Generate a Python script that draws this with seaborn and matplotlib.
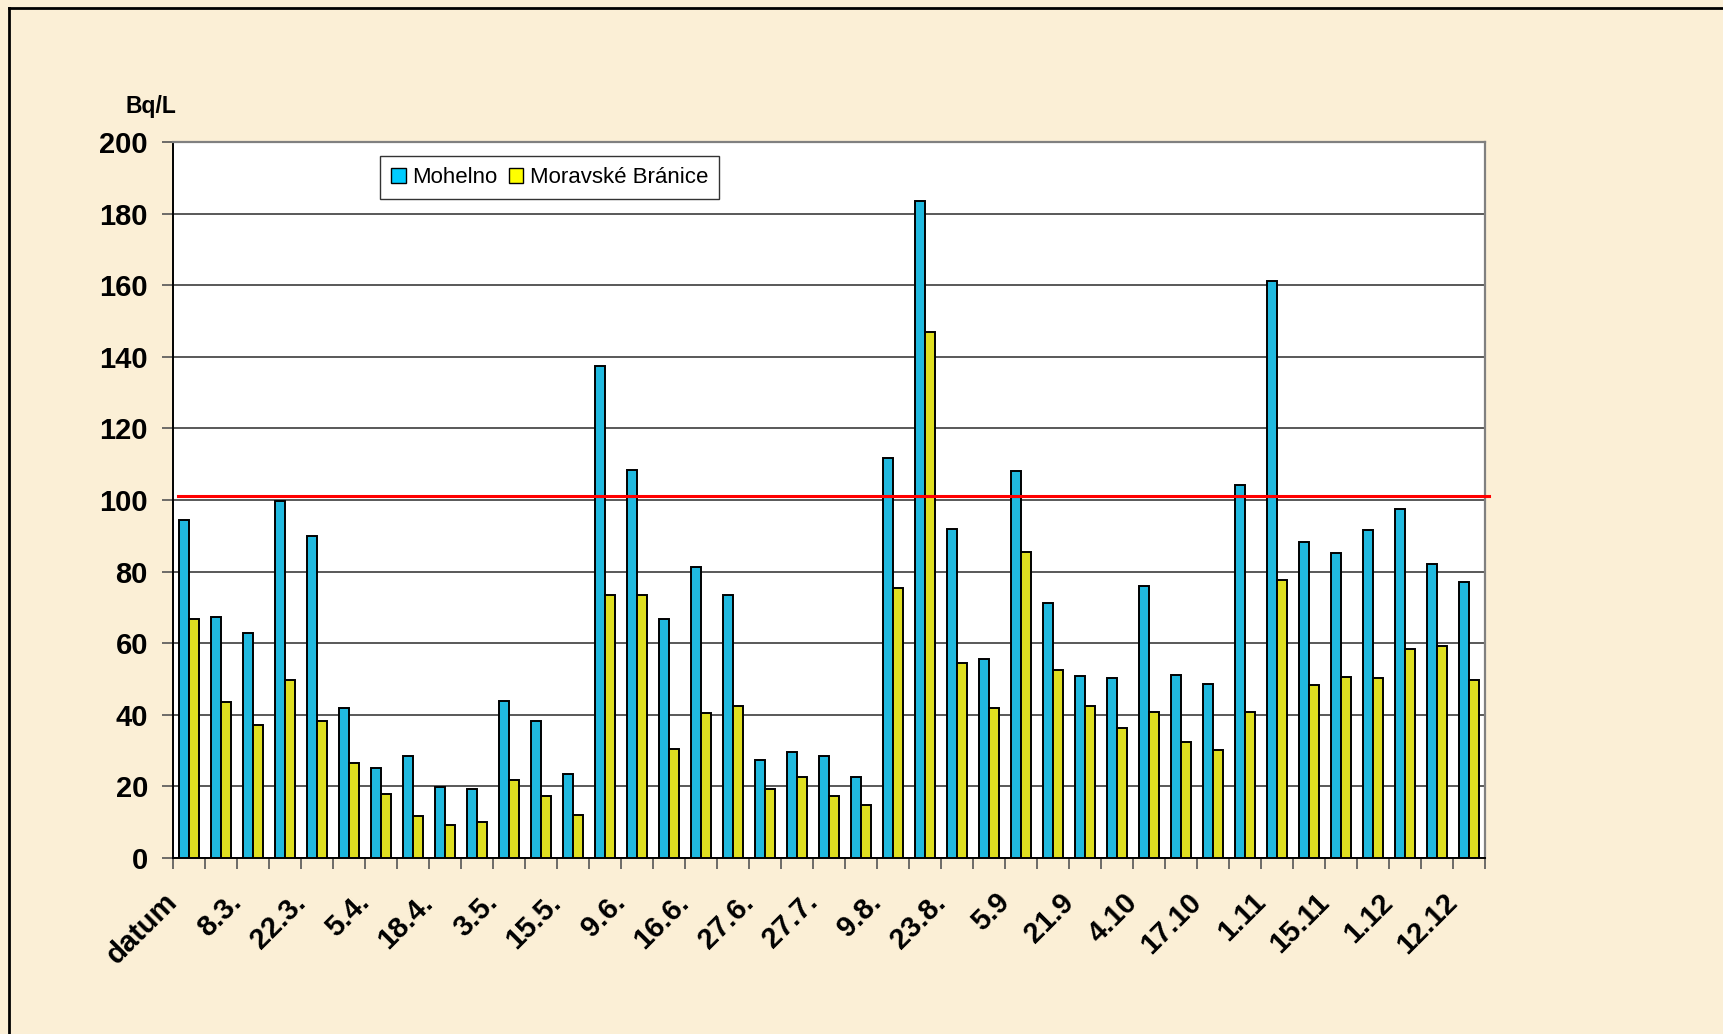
import numpy as np
import pandas as pd
import matplotlib
matplotlib.use("Agg")
import matplotlib.pyplot as plt
import matplotlib.transforms as mtrans
from matplotlib.lines import Line2D
from matplotlib.patches import Patch
import seaborn as sns

plt.rcParams['font.family'] = ['Liberation Sans', 'DejaVu Sans']

# ---- data ----
shown_labels = ["datum", "8.3.", "22.3.", "5.4.", "18.4.", "3.5.", "15.5.", "9.6.",
                "16.6.", "27.6.", "27.7.", "9.8.", "23.8.", "5.9", "21.9", "4.10",
                "17.10", "1.11", "15.11", "1.12", "12.12"]
mohelno = [94.3, 67.3, 62.8, 99.7, 90.0, 42.0, 25.1, 28.5, 19.9, 19.4, 43.9, 38.3,
           23.6, 137.4, 108.3, 66.7, 81.3, 73.5, 27.5, 29.5, 28.5, 22.7, 111.8, 183.6,
           92.0, 55.6, 108.0, 71.1, 50.8, 50.2, 75.9, 51.1, 48.7, 104.2, 161.3, 88.2,
           85.3, 91.7, 97.4, 82.0, 77.2]
branice = [66.7, 43.5, 37.2, 49.7, 38.2, 26.6, 17.8, 11.6, 9.1, 10.1, 21.7, 17.4,
           12.0, 73.5, 73.5, 30.4, 40.6, 42.5, 19.4, 22.7, 17.4, 14.9, 75.4, 146.9,
           54.6, 42.0, 85.6, 52.6, 42.5, 36.2, 40.9, 32.4, 30.2, 40.7, 77.6, 48.3,
           50.5, 50.2, 58.3, 59.3, 49.6]
series_names = ["Mohelno", "Moravské Bránice"]
limit_value = 101
y_ticks = list(range(0, 201, 20))

n = len(mohelno)
sample = list(range(n))
df = pd.DataFrame({
    "vzorek": sample + sample,
    "stanice": [series_names[0]] * n + [series_names[1]] * n,
    "Bq/L": mohelno + branice,
})

colors = {series_names[0]: "#00CCFF", series_names[1]: "#FFFF00"}
bg = "#FBEFD6"

W, H = 1723, 1034
fig = plt.figure(figsize=(W / 100, H / 100), dpi=100, facecolor=bg)
left, right, top, bottom = 173, 1485, 142, 858
ax = fig.add_axes([left / W, 1 - bottom / H, (right - left) / W, (bottom - top) / H])
ax.set_facecolor("white")

sns.barplot(data=df, x="vzorek", y="Bq/L", hue="stanice", order=sample,
            hue_order=series_names, palette=colors, width=0.62,
            edgecolor="black", linewidth=1.4, legend=False, ax=ax, zorder=3)

ax.set_xlim(-0.5, n - 0.5)
ax.set_ylim(0, 200)
ax.set_xlabel("")
ax.set_ylabel("")

# grid
ax.set_axisbelow(True)
ax.yaxis.grid(True, color="#3c3c3c", lw=1.2)
ax.xaxis.grid(False)

# limit line
ax.axhline(limit_value, xmin=0.004, xmax=1.003, color="#FF0000", lw=2.2,
           zorder=4, clip_on=False)

# y ticks
ax.set_yticks(y_ticks)
ax.set_yticklabels([str(v) for v in y_ticks], fontsize=21, fontweight="bold")
ax.tick_params(axis="y", length=8, width=1.2, color="#555555", pad=10)

# x ticks: minor ticks at category boundaries, labels every 2nd category
ax.set_xticks(np.arange(-0.5, n, 1), minor=True)
ax.set_xticks(range(0, n, 2))
ax.set_xticklabels([])
ax.tick_params(axis="x", which="major", length=0)
ax.tick_params(axis="x", which="minor", length=8, width=1.2, color="#555555")

offset = mtrans.ScaledTranslation(-26 / 100, -30 / 100, fig.dpi_scale_trans)
for pos, lab in zip(range(0, n, 2), shown_labels):
    ax.text(pos, 0, lab, transform=ax.get_xaxis_transform() + offset,
            rotation=45, rotation_mode="anchor", ha="right", va="top",
            fontsize=21, fontweight="bold", color="black")

# spines
for s in ["left", "bottom"]:
    ax.spines[s].set_color("black")
    ax.spines[s].set_linewidth(1.4)
for s in ["top", "right"]:
    ax.spines[s].set_color("#808080")
    ax.spines[s].set_linewidth(1.6)

# legend
handles = [Patch(facecolor=colors[s], edgecolor="black", lw=1.0) for s in series_names]
leg = ax.legend(handles, series_names, loc="upper left",
                bbox_to_anchor=(380 / W, 1 - 156 / H), bbox_transform=fig.transFigure,
                ncol=2, fontsize=16, frameon=True, fancybox=False,
                edgecolor="black", borderaxespad=0, handlelength=0.65,
                handleheight=0.65, handletextpad=0.3, columnspacing=0.5,
                borderpad=0.5)
leg.get_frame().set_linewidth(1.0)
leg.set_zorder(10)

# unit label
fig.text(126 / W, 1 - 106 / H, "Bq/L", fontsize=16.5, fontweight="bold",
         ha="left", va="center")

# outer border (left and top visible)
fig.add_artist(Line2D([9 / W, 9 / W], [0, 1 - 8 / H], color="black", lw=2,
                      transform=fig.transFigure))
fig.add_artist(Line2D([9 / W, 1], [1 - 8 / H, 1 - 8 / H], color="black", lw=2,
                      transform=fig.transFigure))

fig.savefig("out.png", dpi=100, facecolor=bg)
